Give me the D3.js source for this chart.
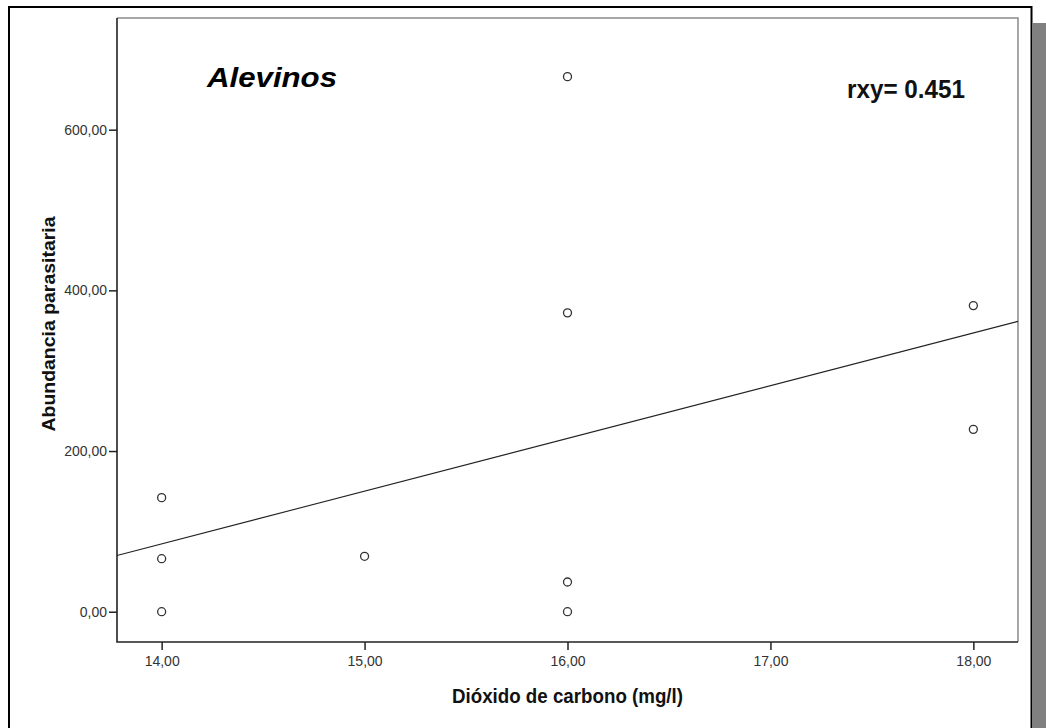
<!DOCTYPE html>
<html>
<head>
<meta charset="utf-8">
<script src="https://cdn.jsdelivr.net/npm/d3@7"></script>
<style>
  html, body { margin: 0; padding: 0; background: #fff; }
  svg { display: block; }
  text { font-family: "Liberation Sans", Arial, sans-serif; }
</style>
</head>
<body>
<svg id="chart" width="1046" height="728"></svg>
<script>
// ---- data ----
const co2 = [14, 14, 14, 15, 16, 16, 16, 16, 18, 18];
const abundance = [0, 66, 142, 69, 0, 37, 372, 666, 381, 227];
const xTicks = [14, 15, 16, 17, 18];
const yTicks = [0, 200, 400, 600];
const panelTitle = "Alevinos";
const corrLabel = "rxy= 0.451";
const xTitle = "Dióxido de carbono (mg/l)";
const yTitle = "Abundancia parasitaria";

// ---- layout ----
const W = 1046, H = 728;
const plot = { left: 117, right: 1018, top: 18, bottom: 642 };
const svg = d3.select("#chart");

// outer frame + shadow
svg.append("rect").attr("x", 1033).attr("y", 23).attr("width", 13).attr("height", H - 23).attr("fill", "#808080");
svg.append("path")
  .attr("d", `M9,${H + 5} L9,7 L1031.5,7 L1031.5,${H + 5}`)
  .attr("fill", "none").attr("stroke", "#000").attr("stroke-width", 2);

const x = d3.scaleLinear().domain([13.78, 18.22]).range([plot.left, plot.right]);
const y = d3.scaleLinear().domain([-37.7, 739]).range([plot.bottom, plot.top]);
const fmt = v => d3.format(".2f")(v).replace(".", ",");

// plot box: top/right grey, left/bottom dark
svg.append("path")
  .attr("d", `M${plot.left},${plot.top} L${plot.right},${plot.top} L${plot.right},${plot.bottom}`)
  .attr("fill", "none").attr("stroke", "#8a8a8a").attr("stroke-width", 1.5);

// axes
const xAxis = d3.axisBottom(x).tickValues(xTicks).tickFormat(fmt).tickSizeInner(8).tickSizeOuter(0).tickPadding(3);
const yAxis = d3.axisLeft(y).tickValues(yTicks).tickFormat(fmt).tickSizeInner(8).tickSizeOuter(0).tickPadding(2);

const gx = svg.append("g").attr("transform", `translate(0,${plot.bottom})`).call(xAxis);
const gy = svg.append("g").attr("transform", `translate(${plot.left},0)`).call(yAxis);
[gx, gy].forEach(g => {
  g.select(".domain").remove();
  g.selectAll(".tick line").attr("stroke", "#222").attr("stroke-width", 1.5);
  g.selectAll(".tick text").attr("fill", "#333").style("font-size", "14px")
    .style("font-family", "'Liberation Sans', Arial, sans-serif");
});
gx.selectAll(".tick text").attr("dy", "0.95em");

// axis lines
svg.append("path")
  .attr("d", `M${plot.left},${plot.top} L${plot.left},${plot.bottom} L${plot.right},${plot.bottom}`)
  .attr("fill", "none").attr("stroke", "#222").attr("stroke-width", 1.6);

// regression line (least squares from data)
const mx = d3.mean(co2), my = d3.mean(abundance);
let sxy = 0, sxx = 0;
co2.forEach((v, i) => { sxy += (v - mx) * (abundance[i] - my); sxx += (v - mx) * (v - mx); });
const slope = sxy / sxx, intercept = my - slope * mx;
const [d0, d1] = x.domain();
svg.append("line")
  .attr("x1", x(d0)).attr("y1", y(intercept + slope * d0))
  .attr("x2", x(d1)).attr("y2", y(intercept + slope * d1))
  .attr("stroke", "#222").attr("stroke-width", 1.1);

// points
svg.append("g").selectAll("circle")
  .data(co2.map((v, i) => ({ x: v, y: abundance[i] })))
  .join("circle")
  .attr("cx", d => x(d.x)).attr("cy", d => y(d.y)).attr("r", 4)
  .attr("fill", "#fff").attr("stroke", "#333").attr("stroke-width", 1.3);

// titles
svg.append("text").attr("x", 207).attr("y", 87)
  .attr("textLength", 130).attr("lengthAdjust", "spacingAndGlyphs")
  .style("font-size", "28px").style("font-weight", "bold").style("font-style", "italic")
  .attr("fill", "#000").text(panelTitle);

svg.append("text").attr("x", 847).attr("y", 98)
  .attr("textLength", 118).attr("lengthAdjust", "spacingAndGlyphs")
  .style("font-size", "25px").style("font-weight", "bold")
  .attr("fill", "#111").text(corrLabel);

svg.append("text").attr("x", (x(14) + x(18)) / 2).attr("y", 703)
  .attr("text-anchor", "middle")
  .attr("textLength", 231).attr("lengthAdjust", "spacingAndGlyphs")
  .style("font-size", "20px").style("font-weight", "bold")
  .attr("fill", "#111").text(xTitle);

svg.append("text")
  .attr("transform", `translate(54.5,324) rotate(-90)`)
  .attr("text-anchor", "middle")
  .attr("textLength", 215).attr("lengthAdjust", "spacingAndGlyphs")
  .style("font-size", "17.5px").style("font-weight", "bold")
  .attr("fill", "#111").text(yTitle);
</script>
</body>
</html>
